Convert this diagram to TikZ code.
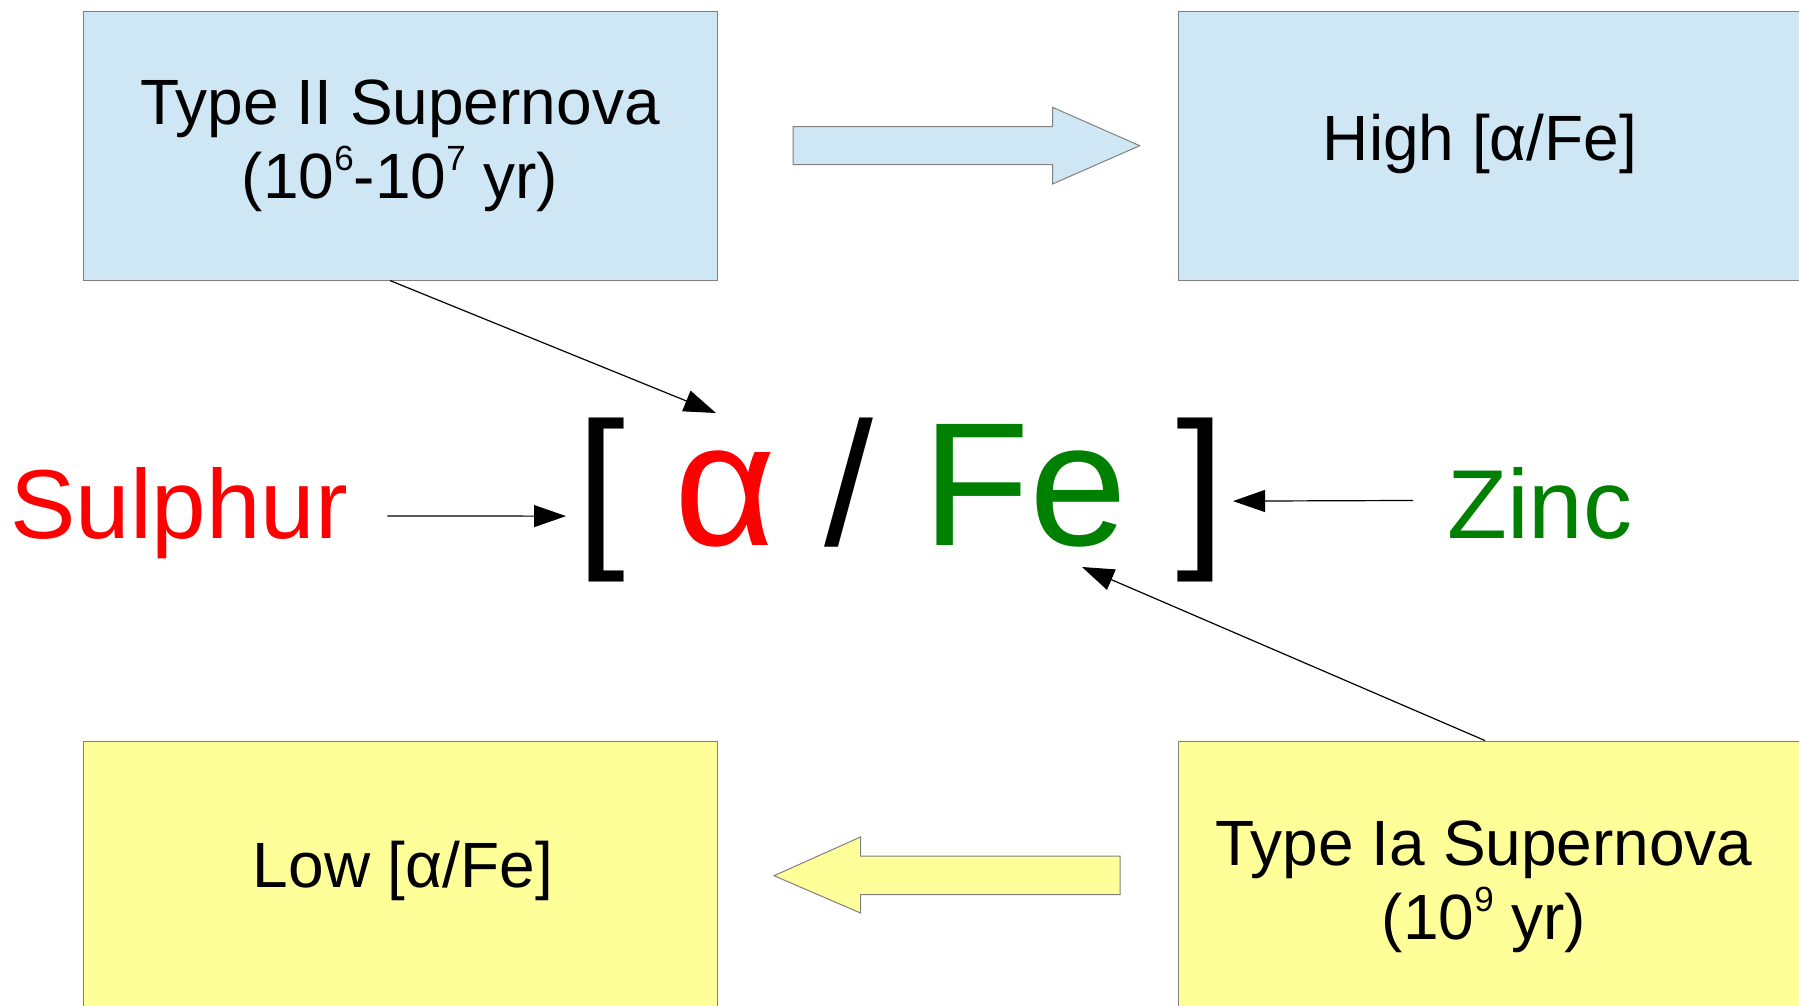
\documentclass[tikz,border=0pt]{standalone}
\usepackage{fontspec}
\setmainfont{Liberation Sans}
\usetikzlibrary{arrows.meta}
\definecolor{paleblue}{RGB}{207,231,245}
\definecolor{paleyellow}{RGB}{255,255,153}
\definecolor{edgegray}{RGB}{128,128,128}
\definecolor{oored}{RGB}{255,0,0}
\definecolor{oogreen}{RGB}{0,128,0}
\newcommand\supnum[1]{\raisebox{28pt}{\fontsize{35}{35}\selectfont#1}}
\begin{document}
\begin{tikzpicture}[x=1pt,y=-1pt,
  box/.style={draw=edgegray,line width=1pt,minimum width=634pt,minimum height=268.7pt,inner sep=0pt,align=center,font=\fontsize{64}{74}\selectfont},
  bluebox/.style={box,fill=paleblue},
  yellowbox/.style={box,fill=paleyellow},
  boxtext/.style={inner sep=0pt,align=center,font=\fontsize{64}{74}\selectfont},
  bigtext/.style={inner sep=0pt,anchor=base west,font=\fontsize{98}{98}\selectfont},
  conn/.style={line width=1.2pt,-{Triangle[length=32pt,width=22pt]}},
  blockarrow/.style={draw=edgegray,line width=1pt,line join=miter}]
\clip (0,0) rectangle (1799,1005);
\fill[white] (0,0) rectangle (1799,1005);
% boxes
\node[bluebox] (t2) at (400,145.7) {Type II Supernova\\(10\supnum{6}-10\supnum{7} yr)};
\node[bluebox] (high) at (1495,145.7) {};
\node[boxtext] (hightext) at (1480,143.6) {High [α/Fe]};
\node[yellowbox] (low) at (400,875.4) {};
\node[boxtext] (lowtext) at (403,870.6) {Low [α/Fe]};
\node[yellowbox] (t1a) at (1495,875.4) {};
\node[boxtext] (t1atext) at (1484,886.6) {Type Ia Supernova\\(10\supnum{9} yr)};
% block arrows
\draw[blockarrow,fill=paleblue] (793,126.7) -- (1052.5,126.7) -- (1052.5,107.3) -- (1139.7,145.7) -- (1052.5,184) -- (1052.5,164.7) -- (793,164.7) -- cycle;
\draw[blockarrow,fill=paleyellow] (1120,856) -- (860.5,856) -- (860.5,837) -- (774,875.7) -- (860.5,913) -- (860.5,894.7) -- (1120,894.7) -- cycle;
% central formula and labels
\node[inner sep=0pt,anchor=base west,font=\fontsize{176}{176}\selectfont] (formula) at (576,545) {[ \textcolor{oored}{α} / \textcolor{oogreen}{Fe} ]};
\node[bigtext,text=oored] (sulphur) at (10,538) {Sulphur};
\node[bigtext,text=oogreen] (zinc) at (1447,538) {Zinc};
\coordinate (alphatip) at (716,413);
\coordinate (fetip) at (1082,567);
% connectors
\draw[conn] ([xshift=39.3pt,yshift=-3.4pt]sulphur.east) -- ([xshift=-10pt,yshift=-16.6pt]formula.west);
\draw[conn] ([xshift=-34pt,yshift=2.5pt]zinc.west) -- ([xshift=7.2pt,yshift=-1.6pt]formula.east);
\draw[conn] ([xshift=-10pt]t2.south) -- (alphatip);
\draw[conn] ([xshift=-10pt]t1a.north) -- (fetip);
\end{tikzpicture}
\end{document}
